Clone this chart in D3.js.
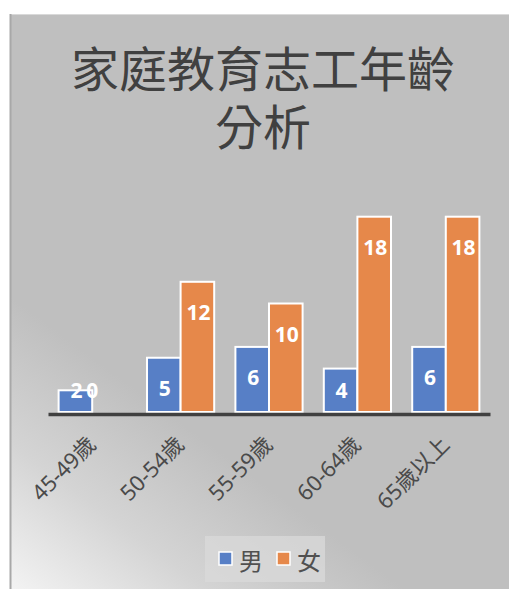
<!DOCTYPE html>
<html><head><meta charset="utf-8">
<script src="https://cdn.jsdelivr.net/npm/d3@7"></script>
<style>html,body{margin:0;padding:0;background:#fff;}svg{display:block;}</style>
</head><body>
<svg id="c" width="509" height="589"></svg>
<script>
const categories = ["45-49歲", "50-54歲", "55-59歲", "60-64歲", "65歲以上"];
const seriesNames = ["男", "女"];
const maleValues = [2, 5, 6, 4, 6];
const femaleValues = [0, 12, 10, 18, 18];
const titleLines = ["家庭教育志工年齡", "分析"];
const colors = {"男": "#577fc6", "女": "#e6884a"};

const svg = d3.select("#c");
const defs = svg.append("defs");
const grad = defs.append("linearGradient").attr("id", "bg")
  .attr("gradientUnits", "userSpaceOnUse")
  .attr("x1", 10).attr("y1", 589).attr("x2", 150).attr("y2", 400);
grad.append("stop").attr("offset", 0).attr("stop-color", "#f3f3f3");
grad.append("stop").attr("offset", 0.5).attr("stop-color", "#d4d4d4");
grad.append("stop").attr("offset", 1).attr("stop-color", "#bfbfbf");

// chart area
svg.append("rect").attr("x", 10).attr("y", 14).attr("width", 510).attr("height", 590).attr("fill", "url(#bg)");
svg.append("line").attr("x1", 10).attr("x2", 509).attr("y1", 14.5).attr("y2", 14.5).attr("stroke", "#d9d9d9").attr("stroke-width", 1);
svg.append("line").attr("x1", 10.5).attr("x2", 10.5).attr("y1", 14).attr("y2", 589).attr("stroke", "#a8a8a8").attr("stroke-width", 2);

// title
svg.append("text").attr("text-anchor", "middle")
  .attr("font-family", "'Noto Sans CJK TC', 'Noto Sans CJK SC', sans-serif")
  .attr("font-size", 48).attr("fill", "#404040")
  .selectAll("tspan").data(titleLines).join("tspan")
  .attr("x", 263).attr("y", (d, i) => 87 + i * 58).text(d => d);

const baseline = 412;
const x = d3.scaleBand().domain(categories).range([48, 490]).paddingInner(0.24).paddingOuter(0.12);
const xs = d3.scaleBand().domain(seriesNames).range([0, x.bandwidth()]);
const y = d3.scaleLinear().domain([0, 20]).range([baseline, baseline - 217]);

const rows = [];
categories.forEach((c, i) => {
  rows.push({cat: c, s: "男", v: maleValues[i]});
  rows.push({cat: c, s: "女", v: femaleValues[i]});
});

const g = svg.append("g");
g.selectAll("rect.bar").data(rows.filter(d => d.v > 0)).join("rect")
  .attr("class", "bar")
  .attr("x", d => x(d.cat) + xs(d.s))
  .attr("y", d => y(d.v))
  .attr("width", xs.bandwidth())
  .attr("height", d => baseline - y(d.v))
  .attr("fill", d => colors[d.s])
  .attr("stroke", "#fff").attr("stroke-width", 2);

// axis
const axis = d3.axisBottom(x).tickSize(0).tickSizeOuter(0);
const ag = svg.append("g").attr("transform", `translate(0,${baseline + 2})`).call(axis);
ag.select(".domain").attr("stroke", "#404040").attr("stroke-width", 3.5);
ag.selectAll(".tick text")
  .attr("font-family", "'Noto Sans', 'Noto Sans CJK TC', sans-serif")
  .attr("font-size", 22).attr("fill", "#4a4a4a")
  .attr("text-anchor", "end")
  .attr("y", 0).attr("dy", 0)
  .attr("transform", "translate(5,32) rotate(-45)");

// data labels
g.selectAll("text.lbl").data(rows).join("text")
  .attr("class", "lbl")
  .attr("x", d => d.v > 0 ? x(d.cat) + xs(d.s) + xs.bandwidth() / 2 + 1 : x(d.cat) + xs(d.s))
  .attr("y", d => Math.min(y(d.v) + 30, baseline - 22))
  .attr("text-anchor", "middle").attr("dominant-baseline", "central")
  .attr("font-family", "'Noto Sans', sans-serif").attr("font-weight", "bold")
  .attr("font-size", 21).attr("fill", "#fff")
  .text(d => d.v);

// legend
const lg = svg.append("g");
lg.append("rect").attr("x", 205).attr("y", 536).attr("width", 120).attr("height", 46)
  .attr("fill", "#dadada").attr("opacity", 0.75);
const li = lg.selectAll("g.li").data(seriesNames).join("g").attr("class", "li")
  .attr("transform", (d, i) => `translate(${219 + i * 58},552)`);
li.append("rect").attr("width", 13).attr("height", 13).attr("fill", d => colors[d])
  .attr("stroke", "#fff").attr("stroke-width", 1.5);
li.append("text").attr("x", 20).attr("y", 7).attr("dominant-baseline", "central")
  .attr("font-family", "'Noto Sans CJK TC', sans-serif").attr("font-size", 24)
  .attr("fill", "#505050").text(d => d);
</script>
</body></html>
